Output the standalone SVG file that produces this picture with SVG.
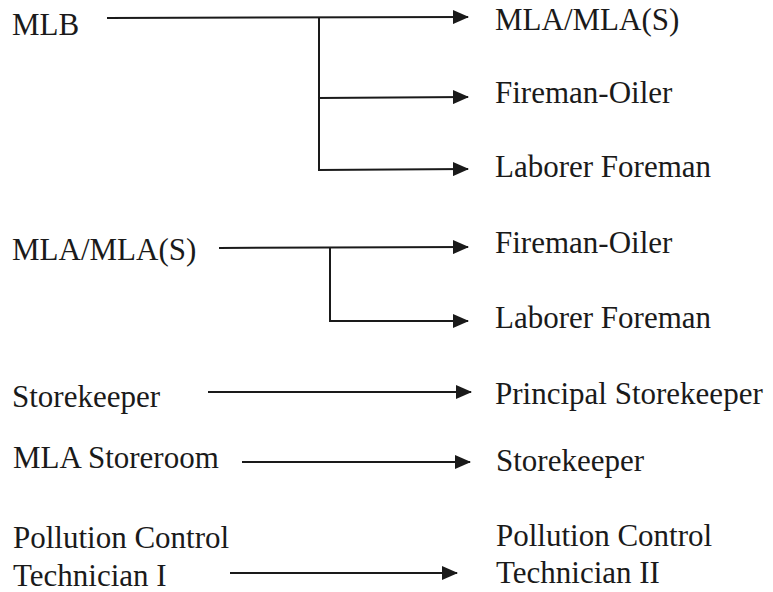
<svg xmlns="http://www.w3.org/2000/svg" width="773" height="592" viewBox="0 0 773 592">
  <defs>
    <marker id="ah" viewBox="0 0 16 14" refX="15" refY="7" markerWidth="16" markerHeight="14" markerUnits="userSpaceOnUse" orient="auto">
      <path d="M0,0 L16,7 L0,14 z" fill="#1a1a1a"/>
    </marker>
  </defs>
  <rect width="773" height="592" fill="#ffffff"/>
  <g id="labels" font-family="Times New Roman" font-size="31" fill="#1a1a1a">
    <g id="n-mlb"><text font-family="Times New Roman" x="12" y="35">MLB</text></g>
    <g id="n-mla-src"><text font-family="Times New Roman" x="12" y="260">MLA/MLA(S)</text></g>
    <g id="n-storekeeper-src"><text font-family="Times New Roman" x="12" y="407">Storekeeper</text></g>
    <g id="n-mla-storeroom"><text font-family="Times New Roman" x="13" y="468">MLA Storeroom</text></g>
    <g id="n-pct1"><text font-family="Times New Roman" x="13" y="548">Pollution Control</text><text font-family="Times New Roman" x="13" y="586">Technician I</text></g>
    <g id="n-mla-t"><text font-family="Times New Roman" x="495" y="30">MLA/MLA(S)</text></g>
    <g id="n-fo-1"><text font-family="Times New Roman" x="495" y="103">Fireman-Oiler</text></g>
    <g id="n-lf-1"><text font-family="Times New Roman" x="495" y="177">Laborer Foreman</text></g>
    <g id="n-fo-2"><text font-family="Times New Roman" x="495" y="253">Fireman-Oiler</text></g>
    <g id="n-lf-2"><text font-family="Times New Roman" x="495" y="328">Laborer Foreman</text></g>
    <g id="n-principal"><text font-family="Times New Roman" x="495" y="404">Principal Storekeeper</text></g>
    <g id="n-storekeeper-t"><text font-family="Times New Roman" x="496" y="471">Storekeeper</text></g>
    <g id="n-pct2"><text font-family="Times New Roman" x="496" y="546">Pollution Control</text><text font-family="Times New Roman" x="496" y="583">Technician II</text></g>
  </g>
  <g id="connectors" stroke="#1a1a1a" stroke-width="2" fill="none">
    <line x1="107" y1="18" x2="468" y2="17" marker-end="url(#ah)"/>
    <line x1="319" y1="17" x2="319" y2="171"/>
    <line x1="318" y1="98" x2="468" y2="97" marker-end="url(#ah)"/>
    <line x1="318" y1="170" x2="468" y2="169" marker-end="url(#ah)"/>
    <line x1="219" y1="248" x2="468" y2="247" marker-end="url(#ah)"/>
    <line x1="330" y1="247" x2="330" y2="322"/>
    <line x1="329" y1="321" x2="468" y2="321" marker-end="url(#ah)"/>
    <line x1="208" y1="392" x2="471" y2="392" marker-end="url(#ah)"/>
    <line x1="242" y1="462" x2="470" y2="462" marker-end="url(#ah)"/>
    <line x1="230" y1="573" x2="457" y2="573" marker-end="url(#ah)"/>
  </g>
</svg>
